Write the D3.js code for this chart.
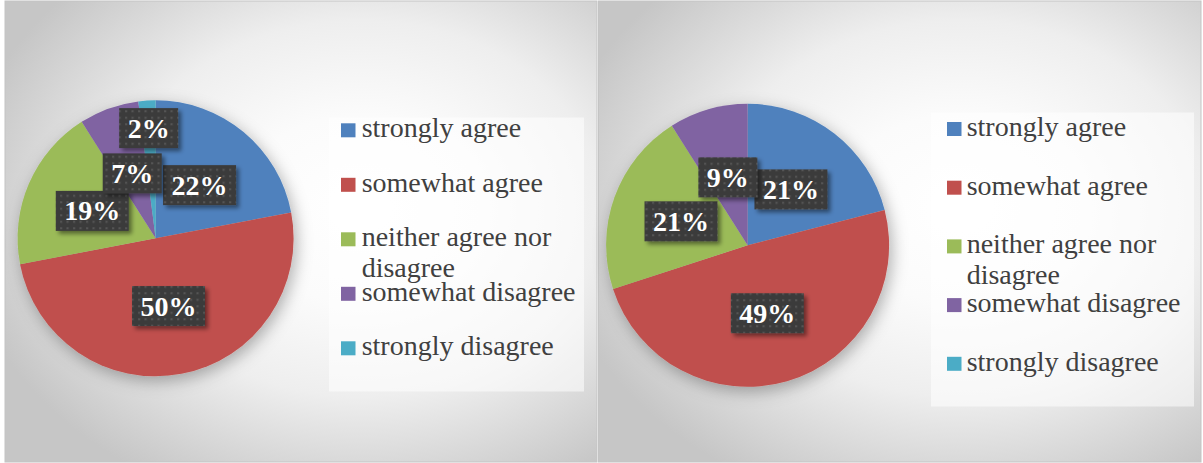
<!DOCTYPE html>
<html>
<head>
<meta charset="utf-8">
<script src="https://cdn.jsdelivr.net/npm/d3@7"></script>
<style>
  body { margin: 0; background: #ffffff; }
  svg { display: block; }
</style>
</head>
<body>
<script>
// Survey answers, two groups of respondents (percent)
const categories = [
  "strongly agree",
  "somewhat agree",
  "neither agree nor disagree",
  "somewhat disagree",
  "strongly disagree"
];
const valuesLeft = [22, 50, 19, 7, 2];
const valuesRight = [21, 49, 21, 9, 0];
const sliceColors = ["#4f81bd", "#c0504d", "#9bbb59", "#8064a2", "#4bacc6"];

const W = 1203, H = 463;
const serif = "Liberation Serif, Times New Roman, DejaVu Serif, serif";
const svg = d3.select("body").append("svg").attr("width", W).attr("height", H);
const defs = svg.append("defs");

// panel background: soft radial fade from white to grey
const grad = defs.append("radialGradient").attr("id", "panelBg")
  .attr("cx", "0.6").attr("cy", "0.45").attr("r", "0.68");
[[0, "#ffffff"], [0.3, "#fbfbfb"], [0.6, "#eeeeee"], [1, "#c6c6c6"]]
  .forEach(([o, c]) => grad.append("stop").attr("offset", o).attr("stop-color", c));

// soft shadow behind the pie
const pieShadow = defs.append("filter").attr("id", "pieShadow")
  .attr("x", "-20%").attr("y", "-20%").attr("width", "140%").attr("height", "140%");
pieShadow.append("feDropShadow").attr("dx", 3).attr("dy", 5)
  .attr("stdDeviation", 8).attr("flood-color", "#000").attr("flood-opacity", 0.3);

// small shadow under the label boxes
const boxShadow = defs.append("filter").attr("id", "boxShadow")
  .attr("x", "-20%").attr("y", "-20%").attr("width", "150%").attr("height", "160%");
boxShadow.append("feDropShadow").attr("dx", 3).attr("dy", 3)
  .attr("stdDeviation", 2).attr("flood-color", "#000").attr("flood-opacity", 0.45);

// dotted texture for the label boxes
const dots = defs.append("pattern").attr("id", "dots")
  .attr("patternUnits", "userSpaceOnUse").attr("width", 6.5).attr("height", 6.5);
dots.append("rect").attr("width", 6.5).attr("height", 6.5).attr("fill", "#3b3b3b");
dots.append("rect").attr("x", 2).attr("y", 2).attr("width", 2).attr("height", 2).attr("fill", "#575757");

const panels = [
  { values: valuesLeft, x: 5, y: 1, w: 592, h: 461, cx: 155.6, cy: 238.3, r: 138,
    legend: { x: 329, y: 117.5, w: 255, h: 274, sx: 341, tx: 361.7, base: 137.3, step: 54.5 } },
  { values: valuesRight, x: 598.5, y: 1, w: 602.5, h: 461, cx: 747.6, cy: 245.3, r: 141.5,
    legend: { x: 931, y: 112.5, w: 263, h: 294, sx: 947, tx: 966.7, base: 136, step: 58.7 } }
];

const pie = d3.pie().sort(null).value(d => d);

panels.forEach(p => {
  const g = svg.append("g");

  g.append("rect").attr("x", p.x).attr("y", p.y).attr("width", p.w).attr("height", p.h)
    .attr("fill", "url(#panelBg)").attr("stroke", "#c4c4c4").attr("stroke-width", 1);

  // slices
  const arcs = pie(p.values);
  const arc = d3.arc().innerRadius(0).outerRadius(p.r);
  const pieG = g.append("g").attr("transform", `translate(${p.cx},${p.cy})`);
  pieG.append("g").attr("filter", "url(#pieShadow)")
    .selectAll("path").data(arcs).join("path")
    .attr("d", arc)
    .attr("fill", (d, i) => sliceColors[i]);

  // legend
  const L = p.legend;
  g.append("rect").attr("x", L.x).attr("y", L.y).attr("width", L.w).attr("height", L.h)
    .attr("fill", "#ffffff").attr("fill-opacity", 0.55);
  const maxText = L.x + L.w - L.tx - 4;
  categories.forEach((name, i) => {
    const base = L.base + i * L.step;
    g.append("rect").attr("x", L.sx).attr("y", base - 14).attr("width", 14.5).attr("height", 14)
      .attr("fill", sliceColors[i]);
    const t = g.append("text").attr("x", L.tx).attr("y", base)
      .attr("font-family", serif).attr("font-size", 28).attr("fill", "#404040");
    // wrap words onto extra lines when the entry is wider than the box
    const words = name.split(" ");
    let line = [], lineNo = 0;
    let tspan = t.append("tspan").attr("x", L.tx).attr("y", base);
    words.forEach(w => {
      line.push(w);
      tspan.text(line.join(" "));
      if (tspan.node().getComputedTextLength() > maxText && line.length > 1) {
        line.pop();
        tspan.text(line.join(" "));
        line = [w];
        lineNo++;
        tspan = t.append("tspan").attr("x", L.tx).attr("y", base + lineNo * 30.5).text(w);
      }
    });
  });

  // data labels: boxes centred on the slice, pushed outward if they collide
  const placed = [];
  const tol = 5;
  const overlaps = b => placed.some(o =>
    Math.min(b.x1, o.x1) - Math.max(b.x0, o.x0) > tol &&
    Math.min(b.y1, o.y1) - Math.max(b.y0, o.y0) > tol);
  const labelG = pieG.append("g");
  arcs.forEach((d, i) => {
    if (d.data <= 0) return;
    const txt = labelG.append("text").text(d.data + "%")
      .attr("font-family", serif).attr("font-size", 28).attr("font-weight", "bold")
      .attr("fill", "#ffffff").attr("text-anchor", "middle");
    const tw = txt.node().getComputedTextLength();
    const bw = tw + 17, bh = 40;
    let box, pos;
    for (const k of [0.5, 0.65, 0.8, 0.95]) {
      pos = d3.arc().innerRadius(p.r * k).outerRadius(p.r * k).centroid(d);
      box = { x0: pos[0] - bw / 2, x1: pos[0] + bw / 2, y0: pos[1] - bh / 2, y1: pos[1] + bh / 2 };
      if (!overlaps(box)) break;
    }
    placed.push(box);
    labelG.insert("rect", "text").attr("x", box.x0).attr("y", box.y0)
      .attr("width", bw).attr("height", bh)
      .attr("fill", "url(#dots)").attr("filter", "url(#boxShadow)");
    txt.attr("x", pos[0]).attr("y", pos[1] + 9.5);
  });
});
</script>
</body>
</html>
